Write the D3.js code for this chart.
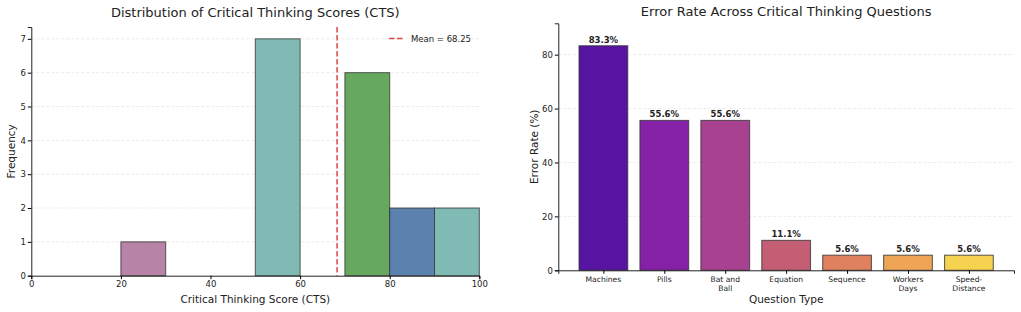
<!DOCTYPE html>
<html>
<head>
<meta charset="utf-8">
<script src="https://cdn.jsdelivr.net/npm/d3@7"></script>
<style>
  body { margin: 0; background: #fff; }
  svg text { font-family: "DejaVu Sans", sans-serif; fill: #222; }
</style>
</head>
<body>
<script>
// histogram data
const binStarts = [20, 50, 70, 80, 90];
const binCounts = [1, 7, 6, 2, 2];
const binColors = ["#b784a7", "#80bab5", "#66a85e", "#5b82ae", "#80bab5"];
const meanScore = 68.25;
const histTicksX = [0, 20, 40, 60, 80, 100];
const histTicksY = [0, 1, 2, 3, 4, 5, 6, 7];

// error rate data
const questions = ["Machines", "Pills", "Bat and Ball", "Equation", "Sequence", "Workers Days", "Speed-Distance"];
const questionLines = [["Machines"], ["Pills"], ["Bat and", "Ball"], ["Equation"], ["Sequence"], ["Workers", "Days"], ["Speed-", "Distance"]];
const errorRates = [83.3, 55.6, 55.6, 11.1, 5.6, 5.6, 5.6];
const errorColors = ["#5714a2", "#8421a6", "#a74190", "#c45e74", "#df805f", "#eea656", "#f5d24f"];
const errTicksY = [0, 20, 40, 60, 80];

const width = 1021, height = 312;
const svg = d3.select("body").append("svg")
    .attr("width", width)
    .attr("height", height);

// ---------- left: histogram ----------
const x1 = d3.scaleLinear().domain([0, 100]).range([31.3, 479.3]);
const y1 = d3.scaleLinear().domain([0, 7.35]).range([275.7, 27]);
const g1 = svg.append("g");

g1.selectAll(".grid1")
    .data(histTicksY.slice(1))
    .enter().append("line")
    .attr("x1", x1(0)).attr("x2", x1(100))
    .attr("y1", d => y1(d)).attr("y2", d => y1(d))
    .attr("stroke", "#e4e4e4").attr("stroke-width", 0.7)
    .attr("stroke-dasharray", "3,2");

g1.selectAll(".bin")
    .data(binStarts)
    .enter().append("rect")
    .attr("x", d => x1(d))
    .attr("y", (d, i) => y1(binCounts[i]))
    .attr("width", d => x1(d + 10) - x1(d))
    .attr("height", (d, i) => y1(0) - y1(binCounts[i]))
    .attr("fill", (d, i) => binColors[i])
    .attr("stroke", "#333").attr("stroke-opacity", 0.8).attr("stroke-width", 1);

g1.append("line")
    .attr("x1", x1(meanScore)).attr("x2", x1(meanScore))
    .attr("y1", y1(7.35)).attr("y2", y1(0))
    .attr("stroke", "#e04848").attr("stroke-width", 1.5)
    .attr("stroke-dasharray", "5.5,2.5");

g1.append("g")
    .attr("transform", `translate(0,${y1(0)})`)
    .call(d3.axisBottom(x1).tickValues(histTicksX).tickSize(3.5).tickPadding(2))
    .call(a => a.select(".domain").attr("stroke", "#222").attr("stroke-width", 1))
    .call(a => a.selectAll("text").attr("font-size", 8.5));

g1.append("g")
    .attr("transform", `translate(${x1(0)},0)`)
    .call(d3.axisLeft(y1).tickValues(histTicksY).tickSize(3.5).tickPadding(2))
    .call(a => a.select(".domain").attr("stroke", "#222").attr("stroke-width", 1))
    .call(a => a.selectAll("text").attr("font-size", 8.5));

g1.append("text")
    .attr("x", (x1(0) + x1(100)) / 2).attr("y", 17)
    .attr("text-anchor", "middle").attr("font-size", 13)
    .text("Distribution of Critical Thinking Scores (CTS)");

g1.append("text")
    .attr("x", (x1(0) + x1(100)) / 2).attr("y", 303)
    .attr("text-anchor", "middle").attr("font-size", 10.5)
    .text("Critical Thinking Score (CTS)");

g1.append("text")
    .attr("transform", `translate(15,${(y1(0) + y1(7.35)) / 2}) rotate(-90)`)
    .attr("text-anchor", "middle").attr("font-size", 10.5)
    .text("Frequency");

// legend
g1.append("line")
    .attr("x1", 389).attr("x2", 405).attr("y1", 38.5).attr("y2", 38.5)
    .attr("stroke", "#e04848").attr("stroke-width", 1.5)
    .attr("stroke-dasharray", "5.5,2.5");
g1.append("text")
    .attr("x", 411).attr("y", 41.5).attr("font-size", 8.5)
    .text("Mean = " + meanScore.toFixed(2));

// ---------- right: error rate bars ----------
const x2 = d3.scaleLinear().domain([-0.74, 6.74]).range([558.3, 1014]);
const y2 = d3.scaleLinear().domain([0, 91.63]).range([270.3, 23.3]);
const g2 = svg.append("g");

g2.selectAll(".grid2")
    .data(errTicksY.slice(1))
    .enter().append("line")
    .attr("x1", x2(-0.74)).attr("x2", x2(6.74))
    .attr("y1", d => y2(d)).attr("y2", d => y2(d))
    .attr("stroke", "#e4e4e4").attr("stroke-width", 0.7)
    .attr("stroke-dasharray", "3,2");

g2.selectAll(".bar")
    .data(errorRates)
    .enter().append("rect")
    .attr("x", (d, i) => x2(i - 0.4))
    .attr("y", d => y2(d))
    .attr("width", x2(0.4) - x2(-0.4))
    .attr("height", d => y2(0) - y2(d))
    .attr("fill", (d, i) => errorColors[i])
    .attr("stroke", "#333").attr("stroke-opacity", 0.75).attr("stroke-width", 1.1);

g2.selectAll(".val")
    .data(errorRates)
    .enter().append("text")
    .attr("x", (d, i) => x2(i))
    .attr("y", d => y2(d) - 3)
    .attr("text-anchor", "middle")
    .attr("font-size", 8.5).attr("font-weight", "bold")
    .text(d => d.toFixed(1) + "%");

g2.append("g")
    .attr("transform", `translate(0,${y2(0)})`)
    .call(d3.axisBottom(x2).tickValues(d3.range(questions.length)).tickSize(3.5).tickFormat(""))
    .call(a => a.select(".domain").attr("stroke", "#222").attr("stroke-width", 1));

g2.selectAll(".qlabel")
    .data(questionLines)
    .enter().append("text")
    .attr("x", (d, i) => x2(i))
    .attr("y", 282.3)
    .attr("text-anchor", "middle")
    .attr("font-size", 7.6)
    .selectAll("tspan")
    .data(d => d)
    .enter().append("tspan")
    .attr("x", function () { return d3.select(this.parentNode).attr("x"); })
    .attr("dy", (d, i) => i === 0 ? 0 : 8.8)
    .text(d => d);

g2.append("g")
    .attr("transform", `translate(${x2(-0.74)},0)`)
    .call(d3.axisLeft(y2).tickValues(errTicksY).tickSize(3.5).tickPadding(2))
    .call(a => a.select(".domain").attr("stroke", "#222").attr("stroke-width", 1))
    .call(a => a.selectAll("text").attr("font-size", 8.5));

g2.append("text")
    .attr("x", (x2(-0.74) + x2(6.74)) / 2).attr("y", 16)
    .attr("text-anchor", "middle").attr("font-size", 13)
    .text("Error Rate Across Critical Thinking Questions");

g2.append("text")
    .attr("x", (x2(-0.74) + x2(6.74)) / 2).attr("y", 303)
    .attr("text-anchor", "middle").attr("font-size", 10.5)
    .text("Question Type");

g2.append("text")
    .attr("transform", `translate(538,${(y2(0) + y2(91.63)) / 2}) rotate(-90)`)
    .attr("text-anchor", "middle").attr("font-size", 10.5)
    .text("Error Rate (%)");
</script>
</body>
</html>
